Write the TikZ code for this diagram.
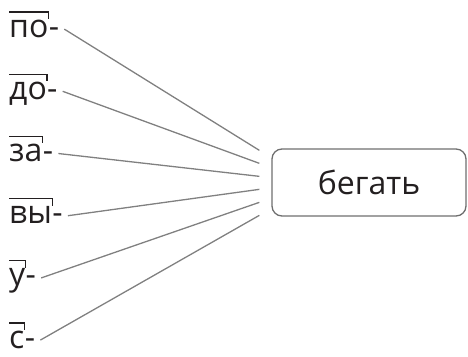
\documentclass[tikz,border=0pt]{standalone}
\usepackage{fontspec}
\setmainfont{Open Sans}
\usepackage{tikz}
\usetikzlibrary{positioning}
\definecolor{lngray}{RGB}{128,128,128}
\definecolor{boxgray}{RGB}{110,110,110}
\definecolor{txtblack}{RGB}{35,31,32}
\tikzstyle{prefbox} = [inner sep=0pt, anchor=base west, font=\fontsize{32}{38}\selectfont, text=txtblack]
\tikzstyle{hyph} = [inner sep=0pt, font=\fontsize{32}{38}\selectfont, text=txtblack]
\tikzstyle{prefmark} = [line width=1.3pt, color=txtblack]
\tikzstyle{linkline} = [line width=1.3pt, color=lngray]
\tikzstyle{verbbox} = [rectangle, rounded corners=10pt, minimum width=194pt, minimum height=67pt, text centered, draw=boxgray, line width=1.3pt, font=\fontsize{32}{38}\selectfont, text=txtblack]

\begin{document}
\begin{tikzpicture}[x=1pt, y=-1pt]
\useasboundingbox (0,0) rectangle (468,356);
% Verb box
\node (verb) [verbbox] at (369,182.5) {бегать};

% Prefixes with their marks and links
\foreach \pre [count=\i] in {по,до,за,вы,у,с} {
  \node (p\i) [prefbox] at (9,{37+62.2*(\i-1)}) {\pre};
  \node (h\i) [hyph, right=0pt of p\i.base east, anchor=base west] {-};
  \draw[prefmark] ([yshift=25pt]p\i.base west) -- ([yshift=25pt]p\i.base east) -- ++(0,7);
  \coordinate (e\i) at ([xshift=-12pt, yshift={-(2+13*(\i-1))*1pt}]verb.north west);
  \draw[linkline] ([xshift=5pt, yshift=3pt]h\i.east) -- (e\i);
}
\end{tikzpicture}
\end{document}
